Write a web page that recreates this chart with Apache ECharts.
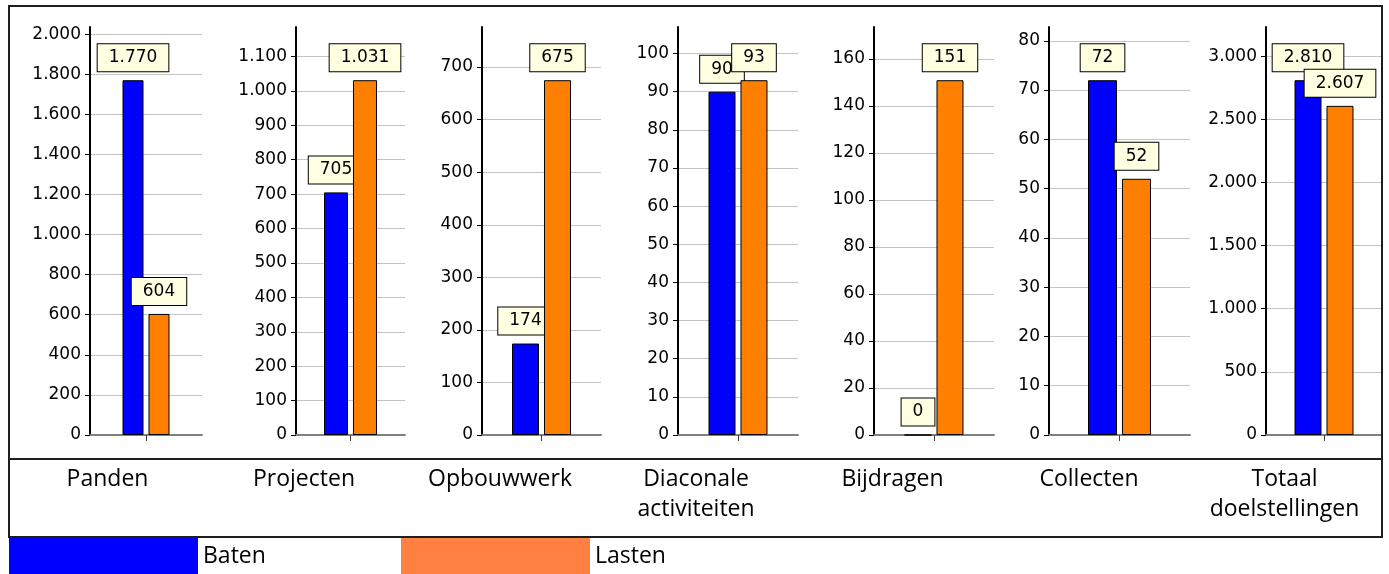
<!DOCTYPE html>
<html>
<head>
<meta charset="utf-8">
<script src="https://cdn.jsdelivr.net/npm/echarts@6/dist/echarts.min.js"></script>
<style>
  html, body { margin: 0; padding: 0; background: #fff; }
  #chart { width: 1389px; height: 574px; }
</style>
</head>
<body>
<div id="chart"></div>
<script>
// ---- data ----
const categories = ['Panden', 'Projecten', 'Opbouwwerk', 'Diaconale\nactiviteiten', 'Bijdragen', 'Collecten', 'Totaal\ndoelstellingen'];
const seriesNames = ['Baten', 'Lasten'];
const baten  = [1770, 705, 174, 90, 0, 72, 2810];
const lasten = [604, 1031, 675, 93, 151, 52, 2607];
const yStep = [200, 100, 100, 10, 20, 10, 500];
const yTop  = [2000, 1100, 700, 100, 160, 80, 3000];

// ---- layout (not data) ----
const panelEdges = [9, 206, 402, 598, 794, 991, 1187, 1382];
const axisX     = [90, 296, 482, 678, 874, 1049, 1266];
const plotRight = [202, 405, 601, 798, 994, 1190, 1382];
const barW      = [21, 24, 27, 27, 27, 29, 27];
const barColors = ['#0000FF', '#FF8000'];
const legendColors = ['#0000FF', '#FF8040'];

function fmt(v) {
  return String(Math.round(v)).replace(/\B(?=(\d{3})+(?!\d))/g, '.');
}

const grids = [], xAxes = [], yAxes = [], series = [], titles = [];
const valueFont = '"DejaVu Sans", Verdana, sans-serif';
const textFont = '"Open Sans", "Noto Sans", sans-serif';

categories.forEach((cat, i) => {
  grids.push({ left: axisX[i], top: 27, width: plotRight[i] - axisX[i], height: 408, containLabel: false });
  const ticks = [];
  for (let v = 0; v <= yTop[i]; v += yStep[i]) ticks.push(v);
  xAxes.push({
    gridIndex: i, type: 'category', data: [cat],
    axisLabel: { show: false },
    axisLine: { show: true, lineStyle: { color: '#808080', width: 2 } },
    axisTick: { show: true, alignWithLabel: true, length: 6, lineStyle: { color: '#404040', width: 1 } },
    splitLine: { show: false }
  });
  yAxes.push({
    gridIndex: i, type: 'value', min: 0,
    max: function (v) { return v.max * 1.15; },
    interval: yStep[i],
    axisLine: { show: true, lineStyle: { color: '#000', width: 2 } },
    axisTick: { show: true, length: 5, inside: false, lineStyle: { color: '#000', width: 1 }, customValues: ticks },
    axisLabel: { customValues: ticks, formatter: fmt, color: '#000', fontSize: 17, fontFamily: valueFont, margin: 9 },
    splitLine: { show: true, lineStyle: { color: '#c4c4c4', width: 1 } }
  });
  [baten, lasten].forEach((arr, s) => {
    series.push({
      type: 'bar', name: seriesNames[s], xAxisIndex: i, yAxisIndex: i,
      data: [arr[i]],
      barWidth: barW[i], barGap: (5 / barW[i] * 100).toFixed(1) + '%',
      z: 2 + s,
      itemStyle: { color: barColors[s], borderColor: '#000', borderWidth: 1 },
      label: {
        show: true, position: 'top', distance: 9,
        formatter: p => fmt(p.value),
        backgroundColor: '#FFFFE1', borderColor: '#000', borderWidth: 1,
        padding: [5, 11, 5, 11],
        color: '#000', fontSize: 17, fontFamily: valueFont
      },
      emphasis: { disabled: true }
    });
  });
  titles.push({
    text: cat, left: (panelEdges[i] + panelEdges[i + 1]) / 2, top: 464, textAlign: 'center', padding: 0,
    textStyle: { fontFamily: textFont, fontSize: 23, fontWeight: 'normal', color: '#000', lineHeight: 30 }
  });
});

const legends = seriesNames.map((nm, s) => ({
  left: s === 0 ? 9 : 401, top: 538, padding: 0,
  itemWidth: 189, itemHeight: 36, icon: 'rect', selectedMode: false,
  data: [{ name: nm, itemStyle: { color: legendColors[s], borderWidth: 0 } }],
  textStyle: { fontFamily: textFont, fontSize: 23, color: '#000' }
}));

const chart = echarts.init(document.getElementById('chart'), null, { renderer: 'canvas' });
chart.setOption({
  animation: false,
  backgroundColor: '#fff',
  title: titles,
  legend: legends,
  grid: grids,
  xAxis: xAxes,
  yAxis: yAxes,
  series: series,
  graphic: [
    { type: 'rect', silent: true, z: 100, shape: { x: 9, y: 6, width: 1373, height: 531 }, style: { fill: 'none', stroke: '#1e1e1e', lineWidth: 2 } },
    { type: 'line', silent: true, z: 100, shape: { x1: 9, y1: 459, x2: 1382, y2: 459 }, style: { stroke: '#1e1e1e', lineWidth: 2 } }
  ]
});
</script>
</body>
</html>
